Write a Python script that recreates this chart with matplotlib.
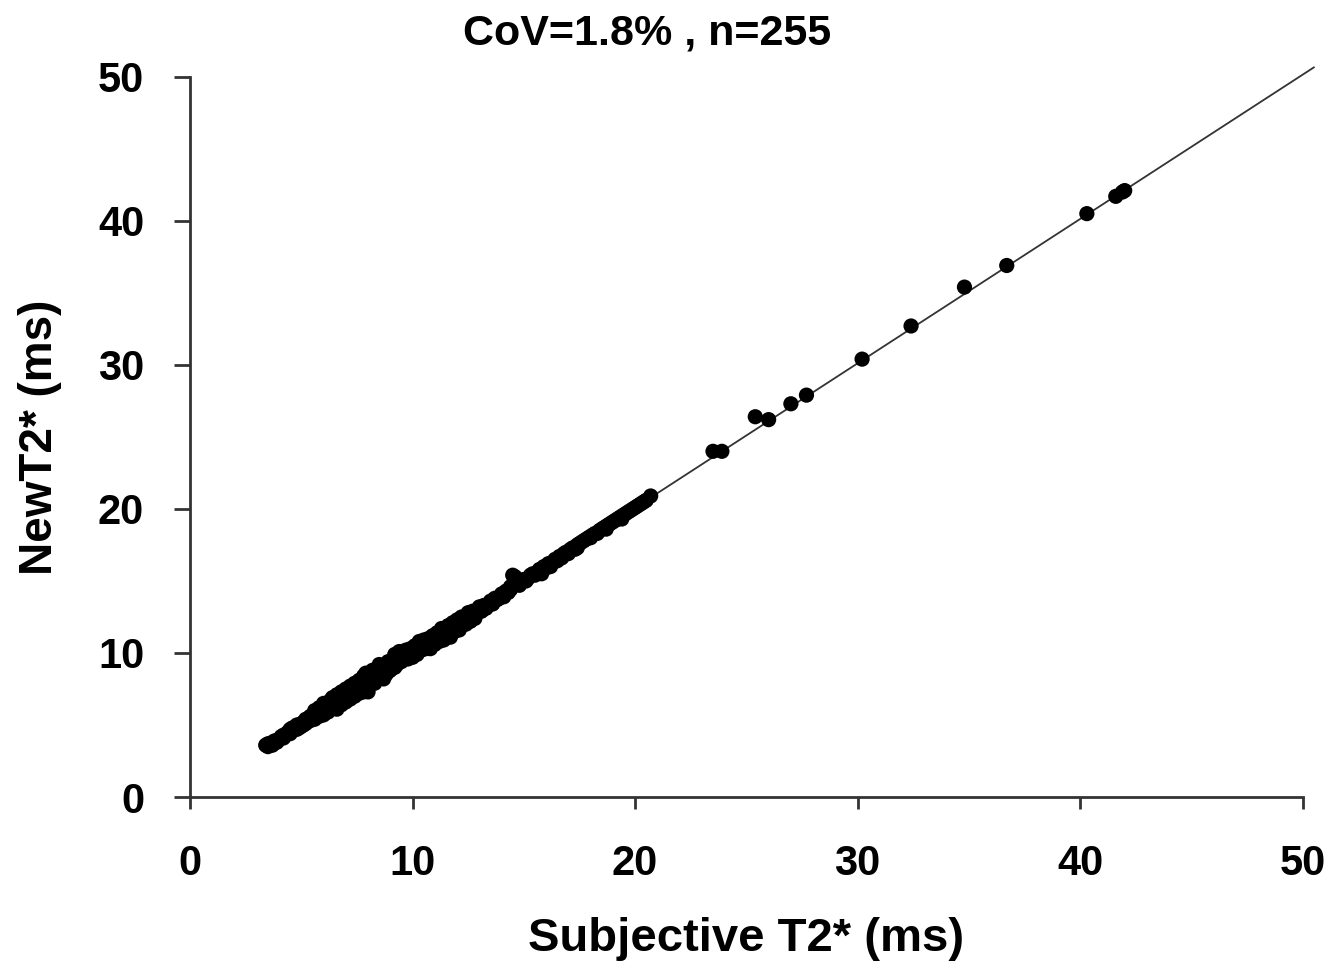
import numpy as np
import matplotlib.pyplot as plt

# Subjective T2* (x) vs new method T2* (y), in ms
subjective_t2 = [
    3.4, 3.5, 3.5, 3.6, 3.7, 3.7, 3.8, 3.9, 4.0, 4.1,
    4.2, 4.2, 4.3, 4.4, 4.5, 4.5, 4.6, 4.7, 4.8, 4.8,
    4.9, 5.0, 5.0, 5.1, 5.2, 5.2, 5.3, 5.4, 5.4, 5.5,
    5.6, 5.6, 5.7, 5.8, 5.8, 5.9, 6.0, 6.0, 6.1, 6.2,
    6.2, 6.3, 6.4, 6.4, 6.5, 6.6, 6.6, 6.7, 6.8, 6.8,
    6.9, 7.0, 7.0, 7.1, 7.2, 7.2, 7.3, 7.4, 7.4, 7.5,
    7.6, 7.6, 7.7, 7.8, 7.8, 7.9, 8.0, 8.0, 8.1, 8.2,
    8.2, 8.3, 8.4, 8.5, 8.5, 8.6, 8.7, 8.8, 8.8, 8.9,
    9.0, 9.1, 9.2, 9.2, 9.3, 9.4, 9.5, 9.6, 9.7, 9.8,
    9.9, 10.0, 10.1, 10.2, 10.3, 10.4, 10.5, 10.6, 10.7, 10.8,
    10.9, 11.0, 11.1, 11.2, 11.3, 11.4, 11.5, 11.6, 11.7, 11.8,
    11.9, 12.0, 12.1, 12.2, 12.4, 12.5, 12.6, 12.7, 12.8, 13.0,
    13.1, 13.2, 13.3, 13.5, 13.6, 13.7, 13.8, 14.0, 14.1, 14.2,
    14.3, 14.4, 14.5, 14.6, 14.8, 14.9, 15.0, 15.2, 15.3, 15.4,
    15.6, 15.7, 15.8, 15.9, 16.0, 16.1, 16.2, 16.3, 16.4, 16.5,
    16.6, 16.7, 16.8, 16.9, 17.0, 17.1, 17.2, 17.3, 17.4, 17.5,
    17.6, 17.7, 17.8, 17.9, 18.0, 18.1, 18.2, 18.3, 18.4, 18.5,
    18.6, 18.7, 18.8, 18.9, 19.0, 19.1, 19.2, 19.3, 19.4, 19.5,
    19.6, 19.7, 19.8, 19.9, 20.0, 20.1, 20.2, 20.3, 20.5, 20.7,
    3.6, 3.9, 4.1, 4.4, 4.6, 4.9, 5.1, 5.3, 5.7, 5.9,
    6.1, 6.3, 6.5, 6.7, 6.9, 7.1, 7.3, 7.5, 7.7, 7.9,
    8.1, 8.3, 8.6, 8.7, 8.9, 9.1, 9.3, 9.5, 9.8, 10.0,
    10.2, 10.5, 10.7, 11.0, 11.3, 11.5, 11.9, 12.3, 12.9, 13.4,
    13.9, 14.4, 15.1, 15.5, 16.2, 16.8, 17.4, 18.0, 18.7, 19.4,
    20.4,
    23.5, 23.9, 25.4, 26.0, 27.0, 27.7, 30.2, 32.4, 34.8, 36.7,
    40.3, 41.6, 41.9, 42.0,
]
new_t2 = [
    3.6, 3.5, 3.7, 3.6, 3.8, 3.6, 3.9, 3.8, 4.0, 4.1,
    4.3, 4.1, 4.3, 4.5, 4.4, 4.7, 4.6, 4.8, 4.7, 5.0,
    4.8, 5.1, 4.9, 5.2, 5.1, 5.4, 5.3, 5.6, 5.3, 5.5,
    6.0, 5.4, 5.8, 6.2, 5.6, 6.0, 6.5, 5.7, 6.3, 6.5,
    5.9, 6.7, 6.2, 6.9, 6.3, 7.1, 6.1, 6.6, 7.3, 6.4,
    6.7, 7.5, 6.6, 7.0, 7.7, 6.8, 7.4, 7.9, 7.0, 7.6,
    8.1, 7.2, 7.6, 8.4, 7.3, 8.6, 7.9, 7.3, 8.5, 7.9,
    8.8, 7.9, 8.9, 8.3, 9.2, 8.4, 8.2, 9.2, 8.5, 9.4,
    8.8, 9.5, 9.0, 9.9, 9.3, 10.1, 9.4, 9.8, 10.2, 9.6,
    10.3, 9.7, 10.5, 9.9, 10.8, 10.2, 10.9, 10.3, 11.0, 10.3,
    11.2, 10.6, 11.4, 10.8, 11.7, 10.9, 11.6, 11.9, 11.1, 12.1,
    11.5, 12.3, 11.6, 12.5, 12.0, 12.8, 12.2, 12.9, 12.4, 13.2,
    12.9, 13.3, 13.1, 13.6, 13.4, 13.8, 13.7, 14.1, 13.9, 14.3,
    14.2, 14.6, 15.4, 15.3, 14.7, 15.0, 15.1, 15.2, 15.4, 15.5,
    15.6, 15.8, 15.5, 16.0, 15.9, 16.2, 16.1, 16.3, 16.5, 16.4,
    16.7, 16.6, 16.9, 17.0, 16.9, 17.2, 17.3, 17.2, 17.5, 17.6,
    17.7, 17.8, 17.9, 18.0, 18.1, 18.2, 18.3, 18.3, 18.5, 18.6,
    18.7, 18.8, 18.9, 19.0, 19.1, 19.2, 19.3, 19.4, 19.5, 19.6,
    19.7, 19.8, 19.9, 20.0, 20.1, 20.2, 20.3, 20.4, 20.6, 20.9,
    3.7, 3.9, 4.2, 4.4, 4.8, 5.0, 5.0, 5.4, 5.9, 6.1,
    6.4, 6.2, 6.9, 6.9, 7.1, 7.3, 7.0, 7.8, 7.9, 7.7,
    7.9, 8.6, 8.8, 8.7, 8.7, 9.2, 9.2, 9.9, 9.6, 10.2,
    10.5, 10.3, 10.6, 11.1, 11.0, 11.2, 12.0, 12.2, 12.9, 13.3,
    13.8, 14.4, 15.0, 15.4, 16.0, 16.8, 17.3, 18.0, 18.6, 19.3,
    20.5,
    24.0, 24.0, 26.4, 26.2, 27.3, 27.9, 30.4, 32.7, 35.4, 36.9,
    40.5, 41.7, 42.0, 42.1,
]

# fitted line
fit_slope = 1.002
fit_intercept = 0.05
fit_range = [3.4, 50.5]

title = "CoV=1.8% , n=255"
ticks = [0, 10, 20, 30, 40, 50]

plt.rcParams['font.family'] = ['Liberation Sans', 'DejaVu Sans']

fig = plt.figure(figsize=(13.43, 9.72), dpi=100)
ax = fig.add_axes([0.1415, 0.180, 0.8285, 0.741])

fit_x = np.array(fit_range)
ax.plot(fit_x, fit_slope * fit_x + fit_intercept, color='#333333', lw=1.3,
        clip_on=False, zorder=2)
ax.scatter(subjective_t2, new_t2, s=120, color='black', edgecolors='none',
           zorder=3)

ax.set_xlim(0, 50)
ax.set_ylim(0, 50)
ax.set_xticks(ticks)
ax.set_yticks(ticks)

for side in ['top', 'right']:
    ax.spines[side].set_visible(False)
for side in ['left', 'bottom']:
    ax.spines[side].set_color('#333333')
    ax.spines[side].set_linewidth(2)

ax.tick_params(axis='x', direction='out', length=8.5, width=2,
               color='#333333', pad=25, labelsize=30)
ax.tick_params(axis='y', direction='out', length=11.5, width=2,
               color='#333333', pad=21.5, labelsize=30)
for lbl in ax.get_xticklabels() + ax.get_yticklabels():
    lbl.set_fontweight('bold')

ax.set_xlabel('Subjective T2* (ms)', fontsize=34, fontweight='bold', labelpad=24)
ax.set_ylabel('NewT2* (ms)', fontsize=33, fontweight='bold', labelpad=26)
fig.text(0.482, 0.966, title, ha='center', va='center', fontsize=31,
         fontweight='bold')

fig.savefig('out.png', dpi=100, facecolor='white')
